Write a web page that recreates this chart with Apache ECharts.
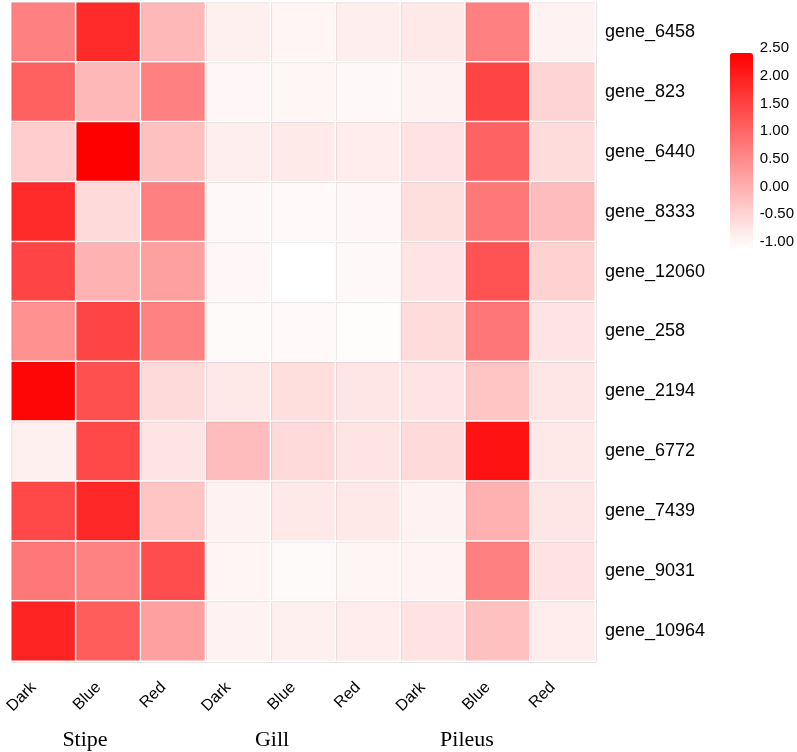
<!DOCTYPE html>
<html>
<head>
<meta charset="utf-8">
<script src="https://cdn.jsdelivr.net/npm/echarts@6/dist/echarts.min.js"></script>
<style>html,body{margin:0;padding:0;background:#fff}#c{width:797px;height:752px}</style>
</head>
<body>
<div id="c"></div>
<script>
const conditions = ['Dark','Blue','Red','Dark','Blue','Red','Dark','Blue','Red'];
const tissues = ['Stipe','Gill','Pileus'];
const genes = ['gene_6458','gene_823','gene_6440','gene_8333','gene_12060','gene_258','gene_2194','gene_6772','gene_7439','gene_9031','gene_10964'];
// rows = genes, columns = Stipe(Dark,Blue,Red), Gill(Dark,Blue,Red), Pileus(Dark,Blue,Red)
const gene_6458  = [0.75, 1.92, -0.03, -0.80, -0.86, -0.77, -0.68, 0.75, -0.82];
const gene_823   = [1.18, -0.03, 0.75, -0.89, -0.88, -0.90, -0.82, 1.57, -0.41];
const gene_6440  = [-0.31, 2.50, -0.14, -0.77, -0.71, -0.74, -0.60, 1.15, -0.52];
const gene_8333  = [1.92, -0.49, 0.75, -0.90, -0.92, -0.89, -0.55, 0.85, -0.08];
const gene_12060 = [1.57, 0.06, 0.30, -0.89, -1.00, -0.90, -0.63, 1.37, -0.38];
const gene_258   = [0.51, 1.57, 0.72, -0.93, -0.92, -0.96, -0.52, 0.88, -0.63];
const gene_2194  = [2.42, 1.40, -0.49, -0.68, -0.55, -0.66, -0.63, -0.19, -0.66];
const gene_6772  = [-0.80, 1.51, -0.63, -0.08, -0.49, -0.63, -0.49, 2.25, -0.68];
const gene_7439  = [1.51, 1.95, -0.19, -0.82, -0.68, -0.68, -0.82, 0.08, -0.66];
const gene_9031  = [0.85, 0.72, 1.46, -0.86, -0.93, -0.86, -0.84, 0.75, -0.60];
const gene_10964 = [2.00, 1.24, 0.30, -0.82, -0.80, -0.74, -0.60, -0.14, -0.74];
const legendTicks = [-1.0, -0.5, 0.0, 0.5, 1.0, 1.5, 2.0, 2.5];

const rows = [gene_6458, gene_823, gene_6440, gene_8333, gene_12060, gene_258, gene_2194, gene_6772, gene_7439, gene_9031, gene_10964];
const data = [];
rows.forEach((r, yi) => r.forEach((v, xi) => data.push([xi, yi, v])));

const chart = echarts.init(document.getElementById('c'), null, {renderer: 'canvas'});
chart.setOption({
  backgroundColor: '#ffffff',
  animation: false,
  grid: [
    {left: 11, right: 202, top: 2, bottom: 91},
    {left: 730, width: 23, top: 48, height: 194}
  ],
  xAxis: [
    {type: 'category', gridIndex: 0, data: conditions, position: 'bottom',
     axisLine: {show: false}, axisTick: {show: false}, splitArea: {show: false},
     axisLabel: {rotate: 45, margin: 14, padding: [0, 14, 0, 0], fontFamily: 'Liberation Sans', fontSize: 16, color: '#000'}},
    {type: 'value', gridIndex: 1, show: false}
  ],
  yAxis: [
    {type: 'category', gridIndex: 0, data: genes, inverse: true, position: 'right',
     axisLine: {show: false}, axisTick: {show: false}, splitArea: {show: false},
     axisLabel: {margin: 10, fontFamily: 'Liberation Sans', fontSize: 18, color: '#000'}},
    {type: 'value', gridIndex: 1, min: legendTicks[0], max: legendTicks[legendTicks.length - 1], interval: 0.5,
     position: 'right', axisLine: {show: false}, axisTick: {show: false}, splitLine: {show: false},
     axisLabel: {margin: 9, fontFamily: 'Liberation Sans', fontSize: 15, color: '#000',
       formatter: v => v.toFixed(2)}}
  ],
  visualMap: {
    type: 'continuous', seriesIndex: 0, min: -1, max: 2.5, calculable: false,
    orient: 'vertical', left: 730, top: 53, itemWidth: 23, itemHeight: 195, padding: 0,
    text: ['', ''], showLabel: false,
    inRange: {color: ['#ffffff', '#ff0000']}
  },
  series: [{
    type: 'heatmap', xAxisIndex: 0, yAxisIndex: 0, data: data,
    itemStyle: {borderColor: '#ffffff', borderWidth: 1.5, shadowColor: 'rgba(0,0,0,0.15)', shadowBlur: 1, shadowOffsetX: 0.5, shadowOffsetY: 0.5},
    emphasis: {disabled: true}
  }],
  graphic: [
    {type: 'text', x: 85, y: 740, style: {text: tissues[0], font: '22px "Liberation Serif"', fill: '#000', align: 'center', verticalAlign: 'middle'}},
    {type: 'text', x: 272, y: 740, style: {text: tissues[1], font: '22px "Liberation Serif"', fill: '#000', align: 'center', verticalAlign: 'middle'}},
    {type: 'text', x: 467, y: 740, style: {text: tissues[2], font: '22px "Liberation Serif"', fill: '#000', align: 'center', verticalAlign: 'middle'}}
  ]
});
</script>
</body>
</html>
